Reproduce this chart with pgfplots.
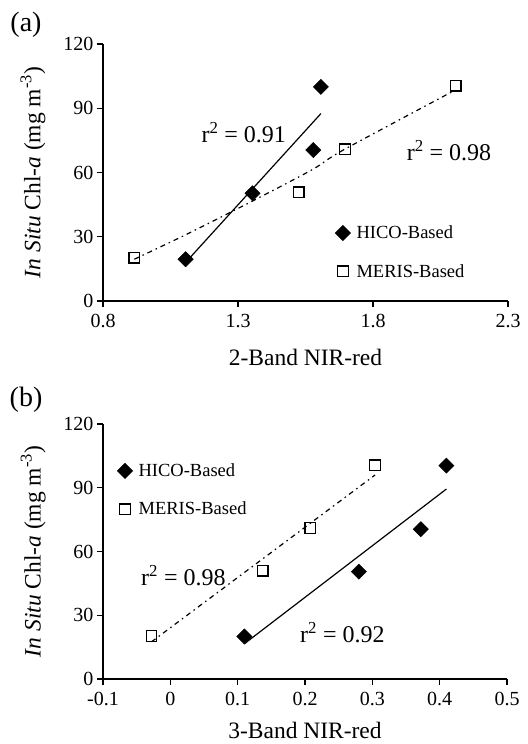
\documentclass[border=0pt]{standalone}
\usepackage{pgfplots}
\pgfplotsset{compat=1.18}
\usepackage{fontspec}
\setmainfont{Liberation Serif}

\tikzset{
 rlab/.style={anchor=base west, font=\fontsize{24bp}{26bp}\selectfont},
 dashdot/.style={line width=1.2bp, dash pattern=on 5bp off 4bp on 1.5bp off 4bp},
}
\pgfplotsset{
 myax/.style={
  scale only axis,
  axis x line*=bottom, axis y line*=left,
  axis line style={line width=1.2bp},
  every tick/.style={line width=1.2bp, black},
  tick align=outside, major tick length=6bp,
  ymin=0, ymax=120, ytick={0,30,60,90,120},
  yticklabels={0,30,60,90,120},
  tick label style={font=\fontsize{20bp}{22bp}\selectfont},
  xticklabel style={yshift=-4bp},
  every axis y label/.style={at={(axis description cs:-0.173,0.5)},rotate=90,anchor=center,font=\fontsize{23.5bp}{26bp}\selectfont},
  every axis x label/.style={at={(axis description cs:0.5,-0.218)},anchor=center,font=\fontsize{23.5bp}{26bp}\selectfont},
  ylabel={\textit{In Situ} Chl-\textit{a} (mg m\textsuperscript{-3})},
  clip=false,
  legend style={draw=none, fill=none, font=\fontsize{18.5bp}{20bp}\selectfont, inner sep=0pt, row sep=20bp, anchor=west,
    nodes={inner xsep=6bp}},
  legend cell align=left,
 },
 hico/.style={only marks, mark=square*, mark options={rotate=45, fill=black, draw=black}, mark size=5.4bp,
   legend image code/.code={\draw[##1] plot coordinates {(0bp,0bp)};}},
 meris/.style={only marks, mark=square, mark options={fill=white, draw=black, line width=1.3bp}, mark size=5.3bp,
   legend image code/.code={\draw[##1] plot coordinates {(0bp,0bp)};}},
}

\begin{document}
\begin{tikzpicture}
\path[use as bounding box] (0,0) rectangle (528bp,-744bp);
\node[font=\fontsize{28bp}{30bp}\selectfont] at (26bp,-25bp) {(a)};
\node[font=\fontsize{28bp}{30bp}\selectfont] at (26bp,-400bp) {(b)};

\begin{axis}[myax, width=405bp, height=257bp, at={(103bp,-301bp)}, anchor=south west,
  xmin=0.8, xmax=2.3, xtick={0.8,1.3,1.8,2.3}, xticklabels={0.8,1.3,1.8,2.3},
  xlabel={2-Band NIR-red},
  legend style={at={(axis description cs:0.573,0.19)}}]
\addplot[forget plot, line width=1.2bp] coordinates {(1.106,18.0) (1.607,87.5)};
\addplot[forget plot, dashdot, smooth] coordinates {(0.916,19.5) (1.104,30.8) (1.337,45.6) (1.573,61.2) (1.69,70.5) (2.09,97.5)};
\addplot[hico] coordinates {(1.106,19.5) (1.354,50.3) (1.579,70.5) (1.607,100)};
\addplot[meris] coordinates {(0.916,20.2) (1.525,50.7) (1.696,70.8) (2.106,100.5)};
\legend{HICO-Based, MERIS-Based}
\node[rlab] at (axis cs:1.152,73.8) {r\textsuperscript{2} = 0.91};
\node[rlab] at (axis cs:1.912,65.8) {r\textsuperscript{2} = 0.98};
\end{axis}

\begin{axis}[myax, width=404bp, height=255bp, at={(103bp,-679bp)}, anchor=south west,
  xmin=-0.1, xmax=0.5, xtick={-0.1,0,0.1,0.2,0.3,0.4,0.5}, xticklabels={-0.1,0,0.1,0.2,0.3,0.4,0.5},
  xlabel={3-Band NIR-red},
  every axis x label/.style={at={(axis description cs:0.5,-0.2)},anchor=center,font=\fontsize{23.5bp}{26bp}\selectfont},
  legend style={at={(axis description cs:0.035,0.741)}}]
\addplot[forget plot, line width=1.2bp] coordinates {(0.11,16.6) (0.41,89.4)};
\addplot[forget plot, dashdot] coordinates {(-0.028,17.5) (0.304,96)};
\addplot[hico] coordinates {(0.11,20) (0.28,50.5) (0.372,70.5) (0.41,100.4)};
\addplot[meris] coordinates {(-0.028,20.3) (0.137,51) (0.208,71) (0.304,100.5)};
\legend{HICO-Based, MERIS-Based}
\node[rlab] at (axis cs:-0.0486,44.2) {r\textsuperscript{2} = 0.98};
\node[rlab] at (axis cs:0.1877,17.1) {r\textsuperscript{2} = 0.92};
\end{axis}
\end{tikzpicture}
\end{document}
